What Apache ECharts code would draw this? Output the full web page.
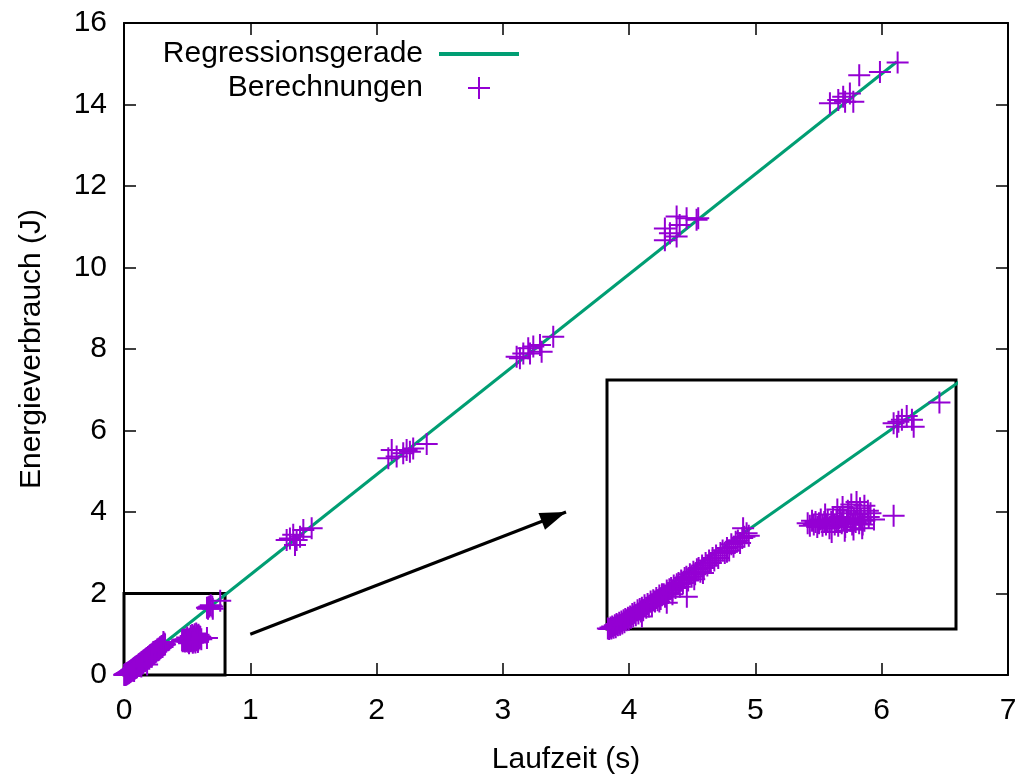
<!DOCTYPE html>
<html><head><meta charset="utf-8">
<script src="https://cdn.jsdelivr.net/npm/echarts@6/dist/echarts.min.js"></script>
<style>html,body{margin:0;padding:0;background:#fff}#c{width:1018px;height:776px}</style>
</head><body><div id="c"></div>
<script>
// ---- axis ranges / labels ----
const xRange = [0, 7];
const yRange = [0, 16];
const insetXRange = [0, 0.8];
const insetYRange = [0, 2];
const xTitle = 'Laufzeit (s)';
const yTitle = 'Energieverbrauch (J)';
const lineName = 'Regressionsgerade';
const pointName = 'Berechnungen';

// ---- regression line (end points) ----
const regressionLine = [[0, 0], [6.12, 15.05]];

// ---- zoom box and arrow (data coordinates) ----
const zoomBox = [[0, 0], [0.8, 2]];
const arrowLine = [[1, 1], [3.5, 4]];

// ---- measurements: dense band near origin ----
const bandPoints = [
  [0.002,0.005],[0.005,0.0],[0.008,0.012],[0.01,0.004],[0.012,0.02],[0.015,0.01],[0.018,0.03],[0.02,0.015],
  [0.022,0.04],[0.025,0.03],[0.028,0.05],[0.03,0.035],[0.033,0.06],[0.035,0.045],[0.038,0.07],[0.04,0.055],
  [0.042,0.08],[0.045,0.07],[0.048,0.09],[0.05,0.075],[0.053,0.1],[0.055,0.09],[0.058,0.12],[0.06,0.1],
  [0.063,0.13],[0.066,0.11],[0.07,0.15],[0.072,0.125],[0.075,0.16],[0.078,0.14],[0.08,0.17],[0.083,0.15],
  [0.086,0.19],[0.09,0.17],[0.093,0.2],[0.096,0.18],[0.1,0.22],[0.103,0.19],[0.106,0.23],[0.11,0.22],
  [0.113,0.25],[0.116,0.23],[0.12,0.27],[0.123,0.24],[0.126,0.28],[0.13,0.28],[0.133,0.26],[0.137,0.31],
  [0.14,0.29],[0.143,0.32],[0.147,0.33],[0.15,0.31],[0.153,0.35],[0.157,0.33],[0.16,0.36],[0.164,0.37],
  [0.167,0.34],[0.17,0.39],[0.174,0.37],[0.178,0.41],[0.182,0.42],[0.186,0.39],[0.19,0.44],[0.194,0.42],
  [0.198,0.46],[0.202,0.44],[0.206,0.48],[0.21,0.49],[0.214,0.46],[0.218,0.51],[0.222,0.49],[0.226,0.53],
  [0.23,0.51],[0.234,0.55],[0.238,0.53],[0.242,0.57],[0.246,0.55],[0.25,0.59],[0.255,0.57],[0.26,0.61],
  [0.265,0.63],[0.27,0.61],[0.275,0.65],[0.28,0.63],[0.285,0.68],[0.29,0.66],[0.295,0.7],[0.3,0.71],
  [0.305,0.69],[0.31,0.73],[0.315,0.74],[0.32,0.77],[0.325,0.75],[0.312,0.81],
  [0.183,0.26],[0.137,0.21],[0.275,0.62],[0.08,0.1],[0.15,0.28],[0.22,0.45],[0.12,0.22],[0.2,0.4]
];
// ---- measurements: cluster below the line ----
const offLinePoints = [
  [0.46,0.85],[0.465,0.83],[0.47,0.87],[0.474,0.84],[0.478,0.86],[0.482,0.82],[0.486,0.85],[0.49,0.88],
  [0.494,0.83],[0.498,0.86],[0.502,0.84],[0.506,0.87],[0.51,0.81],[0.514,0.86],[0.518,0.89],[0.522,0.84],
  [0.526,0.87],[0.53,0.83],[0.534,0.9],[0.538,0.85],[0.542,0.88],[0.546,0.82],[0.55,0.86],[0.554,0.93],
  [0.558,0.87],[0.562,0.84],[0.566,0.89],[0.57,0.86],[0.574,0.92],[0.578,0.85],[0.582,0.88],[0.586,0.84],
  [0.59,0.87],[0.528,0.96],[0.54,0.98],[0.552,0.95],[0.56,1.0],[0.572,1.02],[0.58,0.97],[0.59,0.99],
  [0.598,0.95],[0.604,0.93],[0.5,0.92],[0.515,0.78],[0.545,0.79],[0.565,0.8],[0.585,0.81],[0.6,0.9],
  [0.612,0.88],[0.657,0.91]
];
// ---- measurements: small cluster near (0.7, 1.7) ----
const smallUpperPoints = [
  [0.657,1.652],[0.668,1.665],[0.676,1.68],[0.699,1.68],[0.703,1.625],[0.762,1.82],[0.665,1.625],[0.687,1.71]
];
// ---- measurements: larger runs ----
const cluster1 = [[1.486,3.60],[1.42,3.56],[1.34,3.44],[1.314,3.35],[1.367,3.31],[1.394,3.39],[1.354,3.19],[1.288,3.31]];
const cluster2 = [[2.397,5.67],[2.238,5.52],[2.12,5.52],[2.159,5.36],[2.211,5.44],[2.264,5.48],[2.093,5.32],[2.29,5.56]];
const cluster3 = [[3.399,8.30],[3.294,8.10],[3.241,8.06],[3.201,8.02],[3.109,7.81],[3.162,7.89],[3.135,7.77],[3.307,7.93],[3.215,7.89]];
const cluster4 = [[4.376,11.25],[4.547,11.21],[4.534,11.17],[4.455,11.21],[4.283,10.96],[4.323,10.84],[4.376,10.76],[4.283,10.67],[4.40,11.04]];
const cluster5 = [[6.126,15.03],[5.986,14.80],[5.822,14.72],[5.748,14.27],[5.695,14.19],[5.775,14.07],[5.656,14.11],[5.59,14.03],[5.71,14.07]];

const allPoints = [].concat(bandPoints, offLinePoints, smallUpperPoints, cluster1, cluster2, cluster3, cluster4, cluster5);
const insetPoints = allPoints.filter(p => p[0] <= insetXRange[1] && p[1] <= insetYRange[1]);

const FONT = 'Liberation Sans';
const FS = 30;
const PURPLE = '#9400d3';
const GREEN = '#009e73';
const PLUS = 'path://M10,0h2v10h10v2h-10v10h-2v-10h-10v-2h10z';
// arrow head with its tip at the symbol centre (invisible move points square the box)
const ARROW = 'path://M-26,-26M26,26M0,0L9,26L-9,26Z';

const chart = echarts.init(document.getElementById('c'), null, {renderer: 'canvas'});

function mainAxis(pos, min, max, interval, extra) {
  return Object.assign({
    type: 'value', gridIndex: 0, position: pos, min: min, max: max, interval: interval,
    axisLine: {show: true, onZero: false, lineStyle: {color: '#000', width: 2}},
    axisTick: {show: true, inside: true, length: 12, lineStyle: {color: '#000', width: 1.5}},
    axisLabel: {show: false},
    splitLine: {show: false}
  }, extra || {});
}

const option = {
  animation: false,
  backgroundColor: '#fff',
  grid: [
    {left: 124, top: 23, width: 884, height: 652, containLabel: false, outerBoundsMode: 'none'},
    {left: 607, top: 380, width: 349, height: 249, show: true, borderColor: '#000', borderWidth: 3, backgroundColor: '#fff', z: 1, outerBoundsMode: 'none'}
  ],
  xAxis: [
    mainAxis('bottom', xRange[0], xRange[1], 1, {name: xTitle, nameLocation: 'middle', nameGap: 70,
      nameTextStyle: {color: '#000', fontFamily: FONT, fontSize: FS},
      axisLabel: {show: true, color: '#000', fontFamily: FONT, fontSize: FS, margin: 21}}),
    mainAxis('top', xRange[0], xRange[1], 1),
    {type: 'value', gridIndex: 1, min: insetXRange[0], max: insetXRange[1], show: false}
  ],
  yAxis: [
    mainAxis('left', yRange[0], yRange[1], 2, {name: yTitle, nameLocation: 'middle', nameGap: 77, nameRotate: 90,
      nameTextStyle: {color: '#000', fontFamily: FONT, fontSize: FS},
      axisLabel: {show: true, color: '#000', fontFamily: FONT, fontSize: FS, margin: 17}}),
    mainAxis('right', yRange[0], yRange[1], 2),
    {type: 'value', gridIndex: 1, min: insetYRange[0], max: insetYRange[1], show: false}
  ],
  legend: {
    data: [
      {name: lineName, itemStyle: {color: 'rgba(0,0,0,0)', opacity: 0, borderWidth: 0}, lineStyle: {color: GREEN, width: 4}},
      {name: pointName}
    ],
    orient: 'vertical', align: 'right',
    right: 1018 - 521, top: 39, padding: 0,
    itemWidth: 80, itemHeight: 22, itemGap: 4,
    selectedMode: false,
    textStyle: {color: '#000', fontFamily: FONT, fontSize: FS, padding: [0, 11, 0, 0]}
  },
  series: [
    {name: lineName, type: 'line', xAxisIndex: 0, yAxisIndex: 0, data: regressionLine, symbol: 'none', z: 2,
      lineStyle: {color: GREEN, width: 3}, itemStyle: {color: GREEN}, silent: true},
    {name: pointName, type: 'scatter', xAxisIndex: 0, yAxisIndex: 0, data: allPoints, symbol: PLUS, symbolSize: 22,
      itemStyle: {color: PURPLE, opacity: 1}, clip: false, z: 3, silent: true},
    {name: lineName, type: 'line', xAxisIndex: 2, yAxisIndex: 2, data: regressionLine, symbol: 'none', z: 4, clip: true,
      lineStyle: {color: GREEN, width: 3}, itemStyle: {color: GREEN}, silent: true},
    {name: pointName, type: 'scatter', xAxisIndex: 2, yAxisIndex: 2, data: insetPoints, symbol: PLUS, symbolSize: 22,
      itemStyle: {color: PURPLE, opacity: 1}, clip: false, z: 5, silent: true},
    {type: 'line', xAxisIndex: 0, yAxisIndex: 0, data: [], z: 6, silent: true,
      markArea: {silent: true, label: {show: false},
        itemStyle: {color: 'rgba(0,0,0,0)', borderColor: '#000', borderWidth: 3},
        data: [[{coord: zoomBox[0]}, {coord: zoomBox[1]}]]},
      markLine: {silent: true, symbol: ['none', ARROW], symbolSize: 52, label: {show: false},
        lineStyle: {color: '#000', width: 3, type: 'solid'},
        itemStyle: {color: '#000'},
        data: [[{coord: arrowLine[0]}, {coord: arrowLine[1]}]]}
    }
  ]
};
chart.setOption(option);
</script>
</body></html>
